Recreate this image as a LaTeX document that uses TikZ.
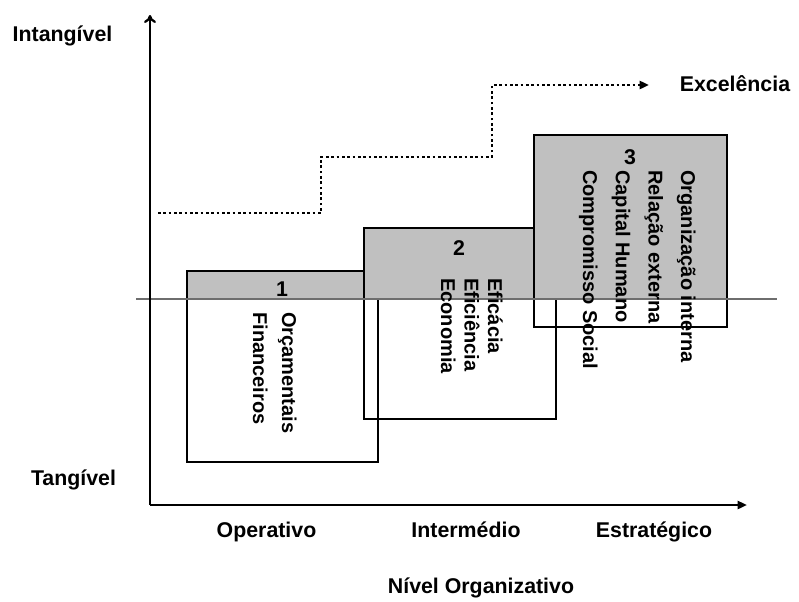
\documentclass[tikz,border=0pt]{standalone}
\usepackage{fontspec}
\setmainfont{Liberation Sans}
\usetikzlibrary{arrows.meta}
\definecolor{boxgrey}{RGB}{192,192,192}
\definecolor{midline}{RGB}{110,110,110}
\tikzset{
  axis/.style={line width=1.7pt},
  boxfill/.style={fill=boxgrey},
  boxline/.style={draw=black,line width=0.8pt},
  lbl/.style={font=\fontsize{16}{19}\selectfont\bfseries,inner sep=0pt,anchor=base},
  num/.style={font=\fontsize{16}{19}\selectfont\bfseries,inner sep=0pt},
  vtext/.style={rotate=-90,anchor=north west,align=left,inner sep=0pt},
  stair/.style={line width=2pt,dash pattern=on 2pt off 2pt,-{Triangle[length=7pt,width=6pt]}}
}
\begin{document}
\begin{tikzpicture}[x=0.75pt,y=-0.75pt]
\useasboundingbox (0,0) rectangle (799,601);
% box 1
\fill[boxfill] (187,271) rectangle (378,299);
\draw[boxline] (187,271) rectangle (378,462);
% box 2
\fill[boxfill] (364,228) rectangle (556,299);
\draw[boxline] (364,228) rectangle (556,419);
% box 3
\fill[boxfill] (534,135) rectangle (727,299);
\draw[boxline] (534,135) rectangle (727,327);
% middle line
\coordinate (mL) at (136,299);
\coordinate (mR) at (777,299);
\draw[midline,line width=0.9pt] (mL) -- (mR);
% axes
\coordinate (O) at (150,505);
\coordinate (Ytip) at (150,15);
\coordinate (Xtip) at (747,505);
\draw[axis,-{To[length=6pt,width=9pt]}] (O) -- (Ytip);
\draw[axis,-{Triangle[length=7pt,width=6pt]}] (O) -- (Xtip);
% stair dotted line
\coordinate (s0) at (158,213);
\coordinate (s1) at (321,213);
\coordinate (s2) at (321,157);
\coordinate (s3) at (492,157);
\coordinate (s4) at (492,85);
\coordinate (s5) at (649,85);
\draw[stair] (s0) -- (s1) -- (s2) -- (s3) -- (s4) -- (s5);
% numbers
\node[num] (n1) at (282,289) {1};
\node[num] (n2) at (459,248) {2};
\node[num] (n3) at (630,157) {3};
% rotated texts
\node[vtext,font=\fontsize{15}{21.75}\selectfont\bfseries] (t1) at (297,312) {Orçamentais\\Financeiros};
\node[vtext,font=\fontsize{15}{17.6}\selectfont\bfseries] (t2) at (503,278) {Eficácia\\Eficiência\\Economia};
\node[vtext,font=\fontsize{15}{24.5}\selectfont\bfseries] (t3) at (696,170) {Organização interna\\Relação externa\\Capital Humano\\Compromisso Social};
% labels
\node[lbl] (intang) at (62.5,41) {Intangível};
\node[lbl] (tang) at (73.5,485) {Tangível};
\node[lbl] (exc) at (735,91) {Excelência};
\node[lbl] (op) at (266.5,537) {Operativo};
\node[lbl] (int) at (466,537) {Intermédio};
\node[lbl] (est) at (654,537) {Estratégico};
\node[lbl] (niv) at (481,593) {Nível Organizativo};
\end{tikzpicture}
\end{document}
